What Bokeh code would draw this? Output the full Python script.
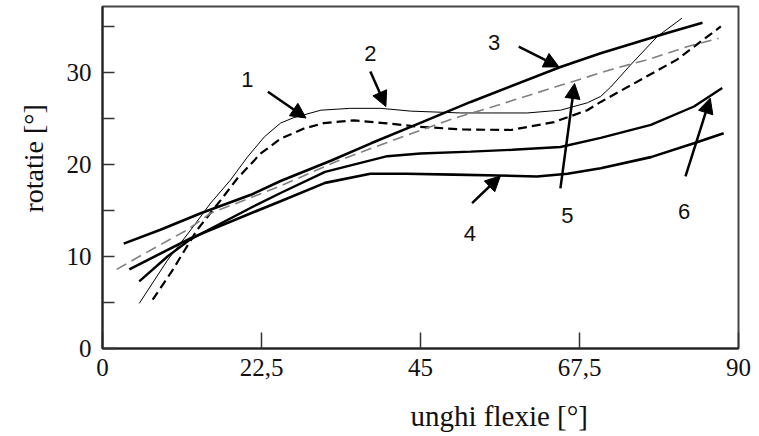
import math
from bokeh.plotting import figure
from bokeh.models import Range1d, FixedTicker, Arrow, NormalHead, Label, Title, CustomJSTickFormatter
from bokeh.embed import file_html
from bokeh.resources import INLINE

# ---- data ----
x_ticks = [0, 22.5, 45, 67.5, 90]
y_ticks = [0, 10, 20, 30]
y_minor = [5, 15, 25, 35]

c1_x = [5.2, 9.2, 12.5, 15.3, 18.1, 20.5, 22.9, 25.2, 27.1, 30.9, 35.0, 39.4, 43.6, 50.7, 55.0, 60.1, 64.8, 68.6, 70.5, 71.9, 74.7, 78.5, 82.0]
c1_y = [4.9, 9.6, 12.9, 15.8, 18.3, 20.8, 23.0, 24.5, 25.1, 25.9, 26.1, 26.1, 25.8, 25.6, 25.6, 25.6, 25.9, 26.7, 27.4, 28.4, 30.8, 33.9, 35.9]

c2_x = [7.1, 9.9, 11.8, 13.4, 16.7, 19.1, 22.4, 25.2, 28.5, 31.3, 35.6, 39.8, 44.9, 51.1, 57.8, 63.9, 68.6, 70.5, 75.2, 81.3, 87.5]
c2_y = [5.3, 8.5, 10.9, 12.9, 16.1, 18.5, 21.2, 22.8, 23.9, 24.5, 24.8, 24.5, 24.1, 23.8, 23.75, 24.6, 25.9, 26.8, 28.8, 31.4, 35.0]

c3_x = [3.0, 8.2, 13.9, 21.0, 25.2, 32.3, 38.0, 44.9, 52.1, 64.8, 70.5, 79.9, 84.9]
c3_y = [11.4, 12.9, 14.7, 16.7, 18.2, 20.4, 22.3, 24.5, 26.8, 30.6, 32.1, 34.3, 35.4]

c4_x = [3.8, 12.5, 21.0, 25.2, 31.5, 37.9, 43.0, 49.7, 56.0, 61.5, 65.8, 70.5, 77.6, 83.7, 87.9]
c4_y = [8.6, 12.0, 14.7, 16.0, 18.0, 19.0, 19.0, 18.9, 18.8, 18.7, 19.0, 19.6, 20.8, 22.3, 23.4]

c5_x = [2.0, 5.9, 12.0, 15.3, 25.0, 33.0, 41.7, 49.7, 54.5, 64.8, 71.9, 77.6, 82.7, 87.2]
c5_y = [8.6, 10.3, 12.9, 14.7, 17.6, 20.3, 22.8, 25.0, 26.1, 28.6, 30.3, 31.5, 32.8, 33.7]

c6_x = [5.2, 9.2, 12.3, 21.0, 25.2, 31.5, 40.3, 45.0, 52.1, 58.0, 64.8, 70.5, 77.6, 83.7, 87.7]
c6_y = [7.3, 10.0, 11.8, 15.3, 16.9, 19.2, 20.9, 21.2, 21.4, 21.6, 21.9, 22.9, 24.3, 26.3, 28.3]

labels = ["1", "2", "3", "4", "5", "6"]
label_x = [20.5, 37.9, 55.4, 52.0, 65.8, 82.3]
label_y = [29.2, 32.1, 33.3, 12.5, 14.5, 14.9]
arrow_x0 = [23.4, 37.9, 58.9, 52.3, 64.8, 82.5]
arrow_y0 = [27.9, 30.1, 32.8, 15.8, 17.4, 18.7]
arrow_x1 = [28.8, 40.1, 64.6, 56.3, 66.8, 86.0]
arrow_y1 = [25.05, 26.3, 30.6, 18.75, 28.8, 27.2]

x_title = "unghi flexie [°]"
y_title = "rotatie [°]"

# ---- figure ----
p = figure(frame_width=636, frame_height=342,
           x_range=Range1d(0, 90), y_range=Range1d(0, 37.17),
           output_backend="svg", toolbar_location=None,
           min_border_left=102, min_border_right=13, min_border_top=6, min_border_bottom=88)
p.xgrid.visible = False
p.ygrid.visible = False
p.background_fill_color = "white"
p.border_fill_color = "white"
p.outline_line_color = "#444444"
p.outline_line_width = 2

p.xaxis.ticker = FixedTicker(ticks=x_ticks)
p.xaxis.formatter = CustomJSTickFormatter(code="return tick.toString().replace('.', ',');")
p.yaxis.ticker = FixedTicker(ticks=y_ticks, minor_ticks=y_minor)

for ax in (p.xaxis[0], p.yaxis[0]):
    ax.axis_line_color = "#222222"
    ax.axis_line_width = 2
    ax.major_tick_out = 0
    ax.minor_tick_out = 0
    ax.major_tick_line_color = "#333333"
    ax.major_tick_line_width = 1.5
    ax.minor_tick_line_color = "#333333"
    ax.minor_tick_line_width = 1.5
    ax.major_label_text_font = "Liberation Serif"
    ax.major_label_text_font_size = "25px"
    ax.major_label_text_color = "#111111"

p.xaxis.major_label_standoff = 10
p.yaxis.major_label_standoff = 11
p.xaxis.major_tick_in = 16
p.xaxis.minor_tick_in = 0
p.yaxis.major_tick_in = 12
p.yaxis.minor_tick_in = 12

# ---- curves ----
p.line(c1_x, c1_y, line_color="black", line_width=1)
p.line(c2_x, c2_y, line_color="black", line_width=2.2, line_dash="9 5")
p.line(c3_x, c3_y, line_color="black", line_width=2.6)
p.line(c4_x, c4_y, line_color="black", line_width=2.6)
p.line(c5_x, c5_y, line_color="#808080", line_width=1.6, line_dash="11 6")
p.line(c6_x, c6_y, line_color="black", line_width=2.4)

# ---- arrows and numbers ----
for i in range(len(labels)):
    p.add_layout(Arrow(end=NormalHead(size=15, fill_color="black", line_color="black", line_width=1),
                       x_start=arrow_x0[i], y_start=arrow_y0[i],
                       x_end=arrow_x1[i], y_end=arrow_y1[i],
                       line_color="black", line_width=2.5))
    p.add_layout(Label(x=label_x[i], y=label_y[i], text=labels[i],
                       text_font="Liberation Sans", text_font_size="22px",
                       text_align="center", text_baseline="middle", text_color="#111111"))

# ---- axis titles ----
p.add_layout(Title(text=x_title, align="left", offset=308, standoff=38,
                   text_font="Liberation Serif", text_font_size="29px",
                   text_font_style="normal", text_color="#111111"), "below")
p.add_layout(Title(text=y_title, align="left", offset=136, standoff=30,
                   text_font="Liberation Serif", text_font_size="28px",
                   text_font_style="normal", text_color="#111111"), "left")

open("out.html", "w").write(file_html(p, INLINE))
